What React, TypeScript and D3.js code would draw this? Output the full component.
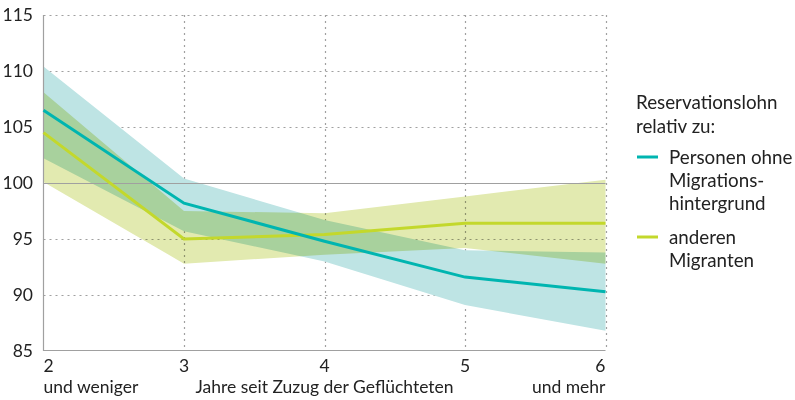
import React, { useEffect, useRef } from 'react';
import * as d3 from 'd3';

const years = [2, 3, 4, 5, 6];
const yTicks = [85, 90, 95, 100, 105, 110, 115];

// Personen ohne Migrationshintergrund
const nativeMid = [106.5, 98.2, 94.8, 91.6, 90.3];
const nativeLow = [102.2, 95.7, 93.0, 89.1, 86.8];
const nativeHigh = [110.4, 100.4, 96.7, 94.0, 93.8];

// andere Migranten
const migrantMid = [104.5, 95.0, 95.4, 96.4, 96.4];
const migrantLow = [100.1, 92.8, 93.6, 94.2, 92.8];
const migrantHigh = [108.1, 97.5, 97.3, 98.8, 100.3];

const FONT = 'Lato, "Open Sans", sans-serif';
const TEAL = '#00b5b0';
const TEAL_BAND = '#bee4e4';
const LIME = '#c3d82c';
const LIME_BAND = '#e2eab0';
const GRID = '#a0a0a0';
const TEXT = '#222';

function App() {
  const svgRef = useRef<SVGSVGElement>(null);

  useEffect(() => {
    const svg = d3.select(svgRef.current);
    svg.selectAll('*').remove();

    const x = d3.scaleLinear().domain([2, 6]).range([43.5, 605.5]);
    const y = d3.scaleLinear().domain([85, 115]).range([351, 15]);

    const g = svg.append('g');

    // grid
    g.selectAll('.hgrid')
      .data(yTicks.filter(t => t !== 100 && t !== 85))
      .enter().append('line')
      .attr('x1', x(2)).attr('x2', x(6))
      .attr('y1', d => Math.round(y(d)) + 0.5).attr('y2', d => Math.round(y(d)) + 0.5)
      .attr('stroke', GRID).attr('stroke-width', 1.2)
      .attr('stroke-dasharray', '2,4');

    g.selectAll('.vgrid')
      .data(years.slice(1))
      .enter().append('line')
      .attr('x1', d => Math.round(x(d)) + 0.5).attr('x2', d => Math.round(x(d)) + 0.5)
      .attr('y1', y(115)).attr('y2', y(85))
      .attr('stroke', GRID).attr('stroke-width', 1.2)
      .attr('stroke-dasharray', '2,4');

    const area = (low: number[], high: number[]) =>
      d3.area<number>()
        .x(d => x(d))
        .y0((d, i) => y(low[i]))
        .y1((d, i) => y(high[i]))(years);

    g.append('path')
      .attr('d', area(nativeLow, nativeHigh))
      .attr('fill', TEAL_BAND);

    g.append('path')
      .attr('d', area(migrantLow, migrantHigh))
      .attr('fill', LIME_BAND)
      .style('mix-blend-mode', 'multiply');

    // baseline 100 and axes
    g.append('line')
      .attr('x1', x(2)).attr('x2', x(6))
      .attr('y1', Math.round(y(100)) + 0.5).attr('y2', Math.round(y(100)) + 0.5)
      .attr('stroke', GRID).attr('stroke-width', 1.2);
    g.append('line')
      .attr('x1', x(2)).attr('x2', x(6))
      .attr('y1', Math.round(y(85)) - 0.5).attr('y2', Math.round(y(85)) - 0.5)
      .attr('stroke', GRID).attr('stroke-width', 1.2);
    g.append('line')
      .attr('x1', x(2)).attr('x2', x(2))
      .attr('y1', y(115)).attr('y2', y(85))
      .attr('stroke', GRID).attr('stroke-width', 1.2);

    const line = (vals: number[]) =>
      d3.line<number>().x(d => x(d)).y((d, i) => y(vals[i]))(years);

    g.append('path')
      .attr('d', line(migrantMid))
      .attr('fill', 'none').attr('stroke', LIME).attr('stroke-width', 3);
    g.append('path')
      .attr('d', line(nativeMid))
      .attr('fill', 'none').attr('stroke', TEAL).attr('stroke-width', 3);

    // y tick labels
    g.selectAll('.ylab')
      .data(yTicks)
      .enter().append('text')
      .attr('x', 33).attr('y', d => y(d))
      .attr('dy', '0.36em')
      .attr('text-anchor', 'end')
      .attr('font-family', FONT).attr('font-size', 17.5).attr('fill', TEXT)
      .text(d => d);

    // x tick labels
    g.selectAll('.xlab')
      .data(years)
      .enter().append('text')
      .attr('x', d => x(d))
      .attr('y', 372)
      .attr('text-anchor', (d, i) => i === 0 ? 'start' : i === years.length - 1 ? 'end' : 'middle')
      .attr('font-family', FONT).attr('font-size', 17.5).attr('fill', TEXT)
      .text(d => d);

    const sub = [
      { t: 'und weniger', v: 2, a: 'start' },
      { t: 'Jahre seit Zuzug der Geflüchteten', v: 4, a: 'middle' },
      { t: 'und mehr', v: 6, a: 'end' },
    ];
    g.selectAll('.xsub')
      .data(sub)
      .enter().append('text')
      .attr('x', d => x(d.v))
      .attr('y', 393)
      .attr('text-anchor', d => d.a)
      .attr('font-family', FONT).attr('font-size', 17.5).attr('fill', TEXT)
      .text(d => d.t);

    // legend
    const lg = svg.append('g').attr('font-family', FONT).attr('font-size', 18.8).attr('fill', TEXT);
    lg.append('text').attr('x', 636).attr('y', 109).text('Reservationslohn');
    lg.append('text').attr('x', 636).attr('y', 133).text('relativ zu:');

    const items = [
      { color: TEAL, lines: ['Personen ohne', 'Migrations-', 'hintergrund'], y: 157 },
      { color: LIME, lines: ['anderen', 'Migranten'], y: 237 },
    ];
    items.forEach(it => {
      lg.append('line')
        .attr('x1', 637).attr('x2', 658)
        .attr('y1', it.y).attr('y2', it.y)
        .attr('stroke', it.color).attr('stroke-width', 3);
      it.lines.forEach((l, i) => {
        lg.append('text').attr('x', 669).attr('y', it.y + 7 + i * 23).text(l);
      });
    });
  }, []);

  return (
    <div style={{ position: 'absolute', left: 0, top: 0 }}>
      <svg ref={svgRef} width={795} height={400} style={{ display: 'block', background: '#fff' }}></svg>
    </div>
  );
}

export default App;
